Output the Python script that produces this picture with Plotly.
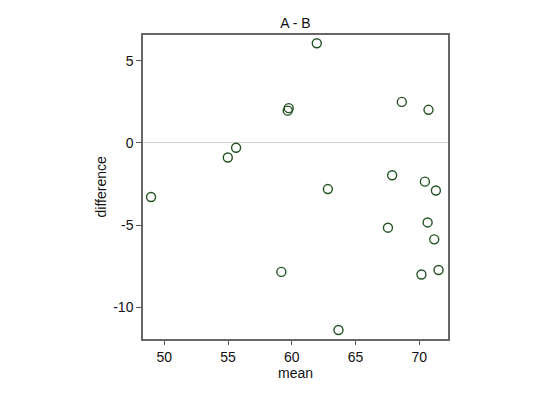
import plotly.graph_objects as go

mean_vals = [61.96, 59.76, 59.68, 68.63, 70.72, 55.63, 54.98, 48.96, 62.83, 67.87,
             70.44, 71.30, 70.65, 67.54, 71.17, 59.18, 70.17, 71.51, 63.66]
diff_vals = [6.06, 2.11, 1.96, 2.49, 2.01, -0.30, -0.89, -3.29, -2.81, -1.97,
             -2.36, -2.90, -4.84, -5.16, -5.87, -7.85, -8.01, -7.73, -11.38]

x_ticks = [50, 55, 60, 65, 70]
y_ticks = [-10, -5, 0, 5]
y_ticktext = ["-10", "-5", "0", "5"]

fig = go.Figure()
fig.add_trace(go.Scatter(
    x=mean_vals, y=diff_vals, mode="markers",
    marker=dict(symbol="circle-open", size=9, color="#245224", line=dict(width=1.4, color="#245224")),
    showlegend=False,
))

fig.update_layout(
    width=540, height=393,
    margin=dict(l=143, r=92, t=35, b=54),
    paper_bgcolor="white", plot_bgcolor="white",
    font=dict(family="Liberation Sans, Arial, sans-serif", size=14, color="#111"),
    title=dict(text="A - B", x=0.5, xref="paper", y=1 - 23/393, yref="container",
               yanchor="middle", font=dict(size=14, color="#111")),
    annotations=[
        dict(text="mean", xref="paper", yref="paper", x=0.5, y=-34/304, xanchor="center",
             yanchor="middle", showarrow=False, font=dict(size=14, color="#111")),
        dict(text="difference", xref="paper", yref="paper", x=-41.5/304.7, y=0.5, xanchor="center",
             yanchor="middle", textangle=-90, showarrow=False, font=dict(size=14, color="#111")),
    ],
)
fig.update_xaxes(
    range=[48.33, 72.25], tickvals=x_ticks, ticks="outside", ticklen=4, tickcolor="#555",
    showgrid=False, zeroline=False, showline=True, mirror=True, linecolor="#666", linewidth=1.5,
)
fig.update_yaxes(
    range=[-11.93, 6.56], tickvals=y_ticks, ticktext=y_ticktext, ticks="outside", ticklen=5,
    tickcolor="#555", showgrid=False, zeroline=True, zerolinecolor="#d0d0d0", zerolinewidth=1,
    showline=True, mirror=True, linecolor="#666", linewidth=1.5,
)

fig.write_html("out.html", config={"displayModeBar": False},
               post_script="document.body.style.margin='0';")
